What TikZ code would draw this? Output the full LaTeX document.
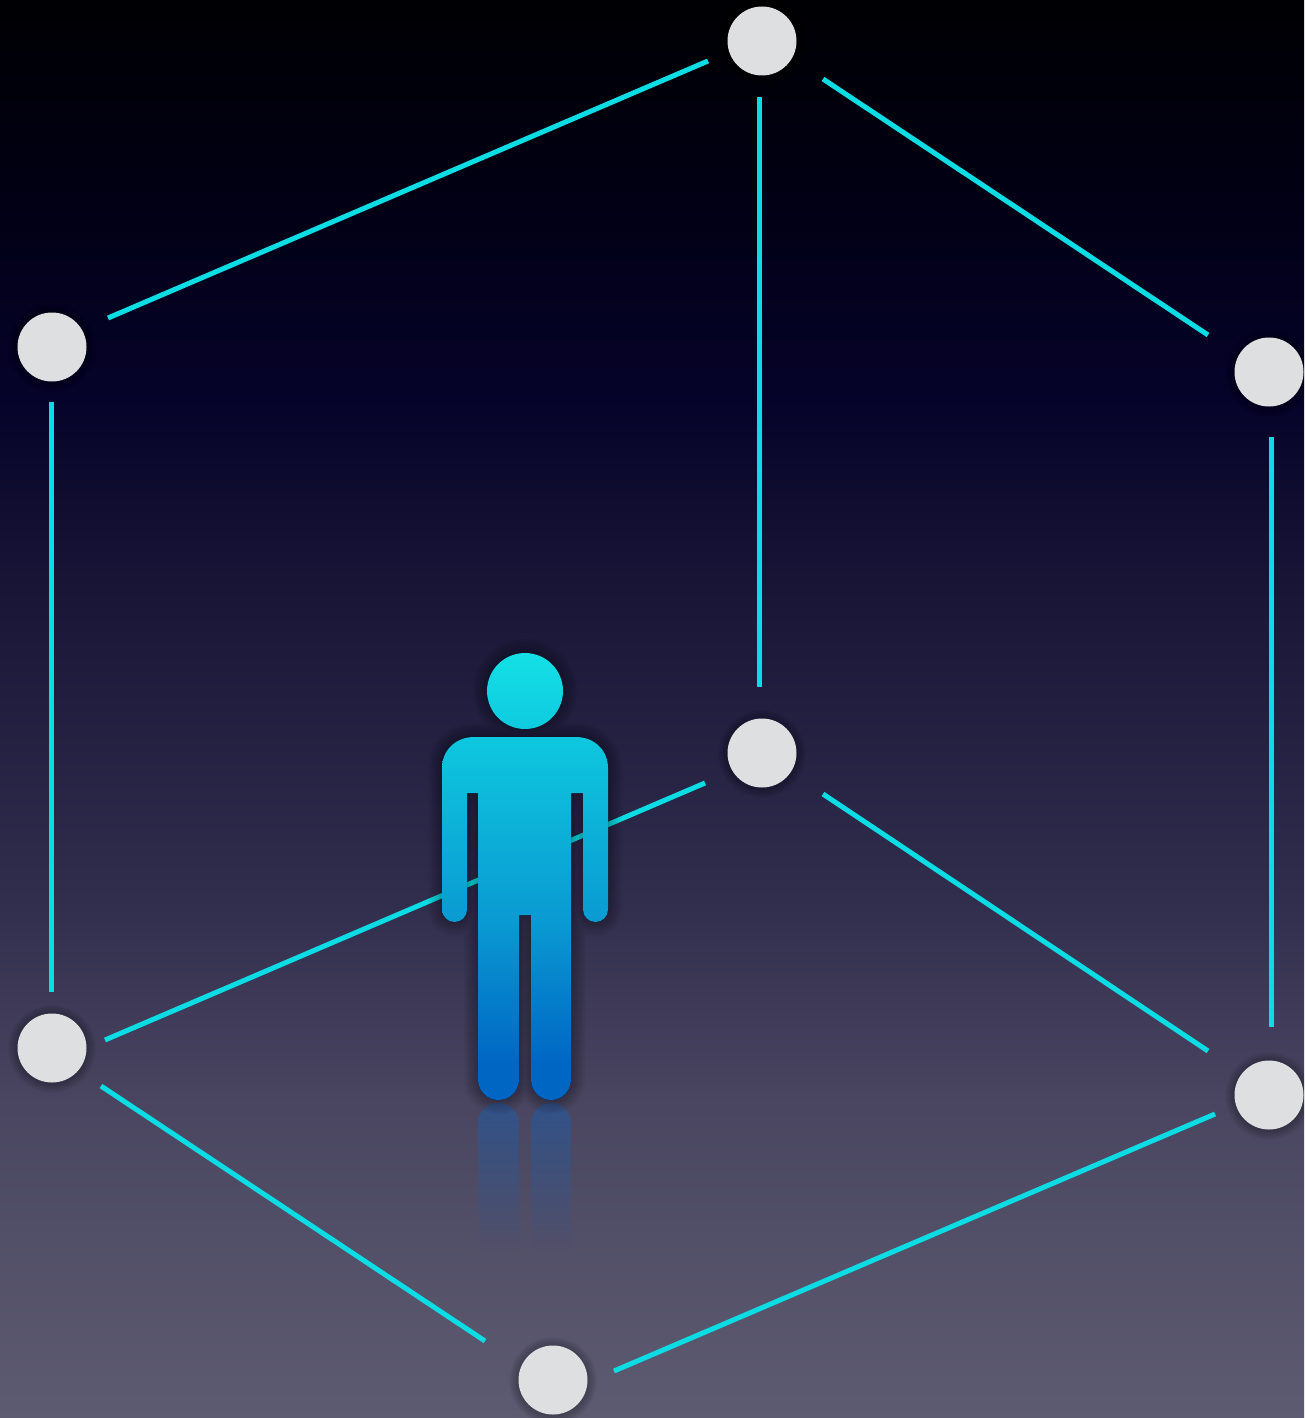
\documentclass[tikz,border=0pt]{standalone}
\usetikzlibrary{fadings}
\definecolor{linec}{HTML}{0CDDE4}
\definecolor{nodec}{HTML}{DEDFE1}
\definecolor{bgA}{HTML}{000003}
\definecolor{bgB}{HTML}{010014}
\definecolor{bgC}{HTML}{06032A}
\definecolor{bgD}{HTML}{191637}
\definecolor{bgE}{HTML}{312D4D}
\definecolor{bgF}{HTML}{4A4661}
\definecolor{bgG}{HTML}{5D5B71}
\definecolor{figA}{HTML}{14E0E6}
\definecolor{figB}{HTML}{0EC6DE}
\definecolor{figC}{HTML}{0A9AD2}
\definecolor{figD}{HTML}{0066C4}
\definecolor{reflc}{HTML}{1A60B0}
% a path fills only the middle 50bp of a 100bp shading
\pgfdeclareverticalshading{bgshade}{100bp}{
 color(0bp)=(bgG);
 color(25bp)=(bgG);
 color(36bp)=(bgF);
 color(43.25bp)=(bgE);
 color(53.85bp)=(bgD);
 color(60.9bp)=(bgC);
 color(68bp)=(bgB);
 color(75bp)=(bgA);
 color(100bp)=(bgA)}
\pgfdeclareverticalshading{figshade}{100bp}{
 color(0bp)=(figD);
 color(29bp)=(figD);
 color(45bp)=(figC);
 color(65bp)=(figB);
 color(75bp)=(figA);
 color(100bp)=(figA)}
\tikzset{
 x=1pt,y=-1pt,
 vertex/.style={circle,fill=nodec,minimum size=69pt,inner sep=0pt,outer sep=0pt},
 edge/.style={draw=linec,line width=5pt},
}
\newcommand{\glow}[4]{% x y r opacity
 \foreach \k in {1,...,7}{\fill[black,opacity=#4] (#1,#2) circle ({#3+\k*1.4});}}
\begin{document}
\begin{tikzpicture}
\useasboundingbox (0,0) rectangle (1304,1418);
\begin{scope}
\clip (0,0) rectangle (1304,1418);
\fill[shading=bgshade] (0,0) rectangle (1304,1418);

% connector anchors (free ends stop short of the vertices)
\coordinate (tl1) at (108,318); \coordinate (tl2) at (708,61);
\coordinate (tr1) at (823,79);  \coordinate (tr2) at (1208,335);
\coordinate (tm1) at (759.4,97);  \coordinate (tm2) at (759.4,687);
\coordinate (ll1) at (51.8,402);  \coordinate (ll2) at (51.8,992);
\coordinate (rr1) at (1271.4,437);\coordinate (rr2) at (1271.4,1027);
\coordinate (ml1) at (105,1040);\coordinate (ml2) at (705,783);
\coordinate (mr1) at (823,794); \coordinate (mr2) at (1208,1051);
\coordinate (bl1) at (101,1086);\coordinate (bl2) at (485,1341);
\coordinate (br1) at (614,1371);\coordinate (br2) at (1215,1114);

\foreach \a/\b in {tl1/tl2,tr1/tr2,tm1/tm2,ll1/ll2,rr1/rr2,ml1/ml2,mr1/mr2,bl1/bl2,br1/br2}
  \draw[edge] (\a) -- (\b);

% vertex shadows
\foreach \p/\q in {762/41,52/347,1269/372,762/753,52/1048,1269/1095,553/1380}
  \glow{\p}{\q+1}{34}{0.04};

\node[vertex] (top) at (762,41) {};
\node[vertex] (upleft) at (52,347) {};
\node[vertex] (upright) at (1269,372) {};
\node[vertex] (mid) at (762,753) {};
\node[vertex] (lowleft) at (52,1048) {};
\node[vertex] (lowright) at (1269,1095) {};
\node[vertex] (bottom) at (553,1380) {};

% reflection of the legs
\fill[reflc,path fading=south,opacity=0.5] (478,1250) -- (478,1123.5) arc[start angle=180,end angle=0,radius=20.5,y radius=-20.5] -- (519,1250) -- cycle;
\fill[reflc,path fading=south,opacity=0.5] (531,1250) -- (531,1123.5) arc[start angle=180,end angle=0,radius=20,y radius=-20.5] -- (571,1250) -- cycle;

% figure outline used for shadow and fill
\def\figpath{%
 (525,691) circle (38)
 (474,737) -- (576,737) .. controls (594,737) and (608,750) .. (608,768)
 -- (608,909.5) arc[start angle=0,end angle=-180,radius=12.5,y radius=-12.5]
 -- (583,793) -- (571,793) -- (571,1079.5)
 arc[start angle=0,end angle=-180,radius=20,y radius=-20.5]
 -- (531,915) -- (519,915) -- (519,1079.5)
 arc[start angle=0,end angle=-180,radius=20.5,y radius=-20.5]
 -- (478,793) -- (467,793) -- (467,909.5)
 arc[start angle=0,end angle=-180,radius=12.5,y radius=-12.5]
 -- (442,768) .. controls (442,750) and (456,737) .. (474,737) -- cycle}
% shadow
\foreach \w in {4,8,...,28}
  \draw[black,opacity=0.04,line width=\w pt,line join=round] \figpath;
\fill[shading=figshade] \figpath;
\end{scope}
\end{tikzpicture}
\end{document}
